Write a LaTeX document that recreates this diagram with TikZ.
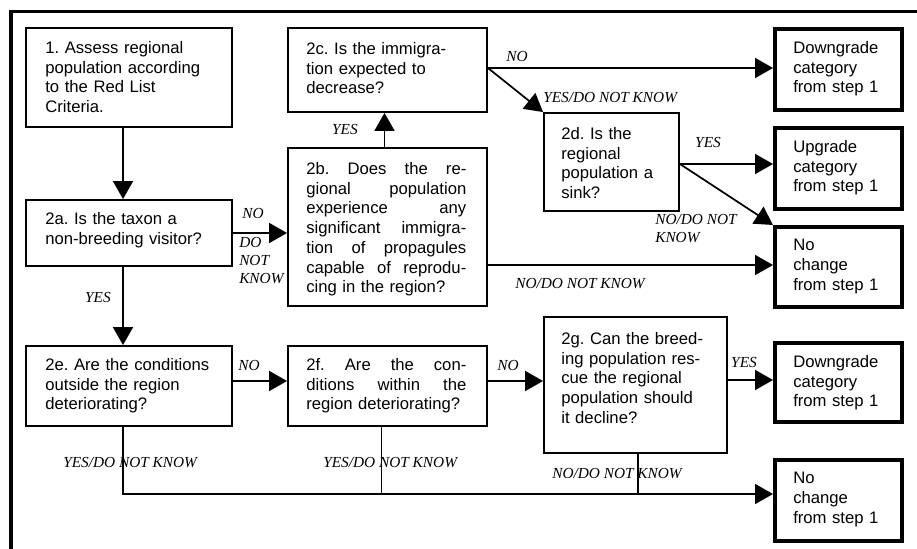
\documentclass[tikz,border=0pt]{standalone}
\usepackage{fontspec}
\newfontfamily\sansbox{Liberation Sans}
\newfontfamily\seriflbl{Liberation Serif}
\usetikzlibrary{arrows.meta,calc,fit}
\newlength\pxu
\setlength\pxu{0.75pt}
\newcommand\jline[1]{{\spaceskip=.28em plus 4em\relax\xspaceskip=.28em plus 4em\relax\makebox[160\pxu][s]{#1}}}
\frenchspacing
\begin{document}
\begin{tikzpicture}[x=0.75pt,y=-0.75pt,
  frameline/.style={line width=2.3pt},
  qbox/.style={draw, line width=1.4pt, inner sep=0pt},
  obox/.style={draw, line width=3pt, inner sep=0pt},
  txt/.style={font=\sansbox\frenchspacing\fontsize{12.5}{14.8}\selectfont, align=left, inner sep=0pt, anchor=north west},
  lbl/.style={font=\seriflbl\itshape\fontsize{11.5}{13.5}\selectfont, inner sep=0pt, align=left},
  conn/.style={line width=1.3pt},
  arr/.style={conn, -{Triangle[length=13.5pt,width=15pt]}},
]
\useasboundingbox (0,0) rectangle (917,549);
\fill[white] (0,0) rectangle (917,549);
\draw[frameline] (11,549) -- (11,11.5) -- (917,11.5);

% question boxes
\node[qbox, fit={(26,28)(232,127)}] (b1) {};
\node[qbox, fit={(26,200)(232,266)}] (b2a) {};
\node[qbox, fit={(26,346)(232,426)}] (b2e) {};
\node[qbox, fit={(288,28)(487,112)}] (b2c) {};
\node[qbox, fit={(288,148)(487,306)}] (b2b) {};
\node[qbox, fit={(288,346)(487,426)}] (b2f) {};
\node[qbox, fit={(544,113)(679,211)}] (b2d) {};
\node[qbox, fit={(544,317)(727,453)}] (b2g) {};
% outcome boxes
\node[obox, fit={(775,29)(902,110)}] (dn1) {};
\node[obox, fit={(775,128)(902,209)}] (up) {};
\node[obox, fit={(775,227)(902,307)}] (nc1) {};
\node[obox, fit={(775,343)(902,422)}] (dn2) {};
\node[obox, fit={(775,460)(902,541)}] (nc2) {};

% box texts
\node[txt, text width=180\pxu] (t1) at ($(b1.north west)+(20,14)$) {1. Assess regional\\population according\\to the Red List\\Criteria.};
\node[txt, text width=180\pxu] (t2a) at ($(b2a.north west)+(20,13)$) {2a. Is the taxon a\\non-breeding visitor?};
\node[txt, text width=180\pxu] (t2e) at ($(b2e.north west)+(20,13)$) {2e. Are the conditions\\outside the region\\deteriorating?};
\node[txt, text width=170\pxu] (t2c) at ($(b2c.north west)+(19,15)$) {2c. Is the immigra-\\tion expected to\\decrease?};
\node[txt, text width=165\pxu] (t2b) at ($(b2b.north west)+(19,15)$) {\jline{2b. Does the re-}\\\jline{gional population}\\\jline{experience any}\\\jline{significant immigra-}\\\jline{tion of propagules}\\\jline{capable of reprodu-}\\cing in the region?};
\node[txt, text width=165\pxu] (t2f) at ($(b2f.north west)+(19,13)$) {\jline{2f. Are the con-}\\\jline{ditions within the}\\region deteriorating?};
\node[txt, text width=115\pxu] (t2d) at ($(b2d.north west)+(18,15)$) {2d. Is the\\regional\\population a\\sink?};
\node[txt, text width=160\pxu] (t2g) at ($(b2g.north west)+(18,16)$) {2g. Can the breed-\\ing population res-\\cue the regional\\population should\\it decline?};
\node[txt, text width=110\pxu] (tdn1) at ($(dn1.north west)+(20,14)$) {Downgrade\\category\\from step 1};
\node[txt, text width=110\pxu] (tup) at ($(up.north west)+(20,14)$) {Upgrade\\category\\from step 1};
\node[txt, text width=110\pxu] (tnc1) at ($(nc1.north west)+(20,14)$) {No\\change\\from step 1};
\node[txt, text width=110\pxu] (tdn2) at ($(dn2.north west)+(20,14)$) {Downgrade\\category\\from step 1};
\node[txt, text width=110\pxu] (tnc2) at ($(nc2.north west)+(20,14)$) {No\\change\\from step 1};

% labels
\node[lbl] (l2cno) at (517,57) {NO};
\node[lbl, anchor=west] (l2cyes) at (543,98) {YES/DO NOT KNOW};
\node[lbl] (l2byes) at (345,129) {YES};
\node[lbl] (l2dyes) at (708,142) {YES};
\node[lbl, anchor=west] (l2dno) at (655,229) {NO/DO NOT\\KNOW};
\node[lbl, anchor=west] (l2bno) at (515,284) {NO/DO NOT KNOW};
\node[lbl] (l2ano) at (253,213) {NO};
\node[lbl, anchor=west] (l2adnk) at (239,261) {DO\\NOT\\KNOW};
\node[lbl] (l2ayes) at (98,297) {YES};
\node[lbl] (l2eno) at (249,365) {NO};
\node[lbl] (l2fno) at (508,365) {NO};
\node[lbl] (l2gyes) at (744,362) {YES};
\node[lbl, anchor=west] (l2eyd) at (63,463) {YES/DO NOT KNOW};
\node[lbl, anchor=west] (l2fyd) at (323,463) {YES/DO NOT KNOW};
\node[lbl, anchor=west] (l2gnd) at (552,474) {NO/DO NOT KNOW};

% connectors
\draw[arr] ([xshift=-6\pxu]b1.south) -- ([xshift=-6\pxu]b2a.north);
\draw[arr] (b2a.east) -- (b2a.east -| b2b.west);
\draw[arr] ([xshift=-6\pxu]b2a.south) -- ([xshift=-6\pxu]b2e.north);
\draw[arr] ([xshift=-3\pxu]b2b.north) -- ([xshift=-3\pxu]b2c.south);
\coordinate (c1) at ([yshift=2\pxu]b2c.east);
\draw[arr] (c1) -- (c1 -| dn1.west);
\draw[arr] (c1) -- (b2d.north west);
\coordinate (d1) at ([yshift=-2\pxu]b2d.east);
\draw[arr] (d1) -- (d1 -| up.west);
\draw[arr] (d1) -- (nc1.north west);
\coordinate (nc1in) at ([yshift=2\pxu]nc1.west);
\draw[arr] (nc1in -| b2b.east) -- (nc1in);
\coordinate (e1) at ([yshift=5\pxu]b2e.east);
\draw[arr] (e1) -- (e1 -| b2f.west);
\coordinate (f1) at ([yshift=5\pxu]b2f.east);
\draw[arr] (f1) -- (f1 -| b2g.west);
\coordinate (g1) at ([yshift=2.5\pxu]dn2.west);
\draw[arr] (g1 -| b2g.east) -- (g1);
\coordinate (nc2in) at ([yshift=6.5\pxu]nc2.west);
\draw[arr] ([xshift=-6\pxu]b2e.south) |- (nc2in);
\coordinate (fs) at ([xshift=-6\pxu]b2f.south);
\draw[conn] (fs) -- (fs |- nc2in);
\coordinate (gs) at ([xshift=2.5\pxu]b2g.south);
\draw[conn] (gs) -- (gs |- nc2in);
\end{tikzpicture}
\end{document}
